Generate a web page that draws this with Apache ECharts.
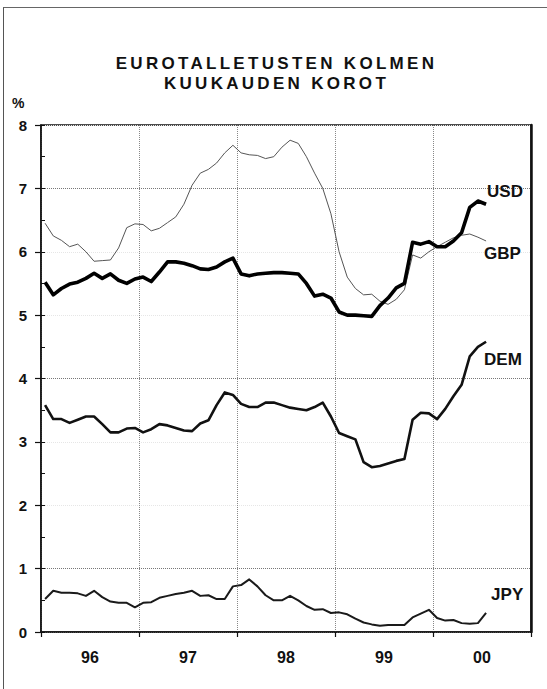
<!DOCTYPE html>
<html>
<head>
<meta charset="utf-8">
<script src="https://cdn.jsdelivr.net/npm/echarts@6/dist/echarts.min.js"></script>
<style>
  body { margin: 0; background: #fff; }
  #wrap { position: relative; width: 547px; height: 689px; overflow: hidden; }
  #frame { position: absolute; left: 3px; top: 7px; right: -5px; bottom: -5px;
           border-left: 1px solid #555; border-top: 1px solid #666; }
  #title { position: absolute; left: 0; top: 54px; width: 547px; padding-left: 3px;
           text-align: center; color: #111; letter-spacing: 3.3px; line-height: 17px;
           font: bold 17px 'Liberation Sans', Arial, sans-serif; }
  #chart { position: absolute; left: 0; top: 0; width: 547px; height: 689px; }
</style>
</head>
<body>
<div id="wrap">
  <div id="frame"></div>
  <div id="chart"></div>
  <div id="title">EUROTALLETUSTEN KOLMEN<br>KUUKAUDEN KOROT</div>
</div>
<script>
// year bands on the x axis
const years = ['96', '97', '98', '99', '00'];

// monthly positions Jan 1996 .. Dec 2000 (data runs to mid 2000)
const months = [];
['1996', '1997', '1998', '1999', '2000'].forEach(y => {
  for (let m = 1; m <= 12; m++) months.push(y + '-' + (m < 10 ? '0' + m : m));
});

const yTicks = [0, 1, 2, 3, 4, 5, 6, 7, 8];

const usd = [5.52, 5.32, 5.42, 5.49, 5.52, 5.58, 5.66, 5.58, 5.65, 5.55,
  5.50, 5.57, 5.60, 5.53, 5.68, 5.84, 5.84, 5.82, 5.78, 5.73,
  5.72, 5.76, 5.84, 5.90, 5.65, 5.62, 5.65, 5.66, 5.67, 5.67,
  5.66, 5.65, 5.50, 5.30, 5.33, 5.27, 5.05, 5.00, 5.00, 4.99,
  4.98, 5.15, 5.27, 5.43, 5.50, 6.15, 6.12, 6.16, 6.08, 6.08,
  6.17, 6.30, 6.70, 6.80, 6.75];

const gbp = [6.45, 6.25, 6.18, 6.08, 6.12, 6.00, 5.85, 5.86, 5.87, 6.06,
  6.38, 6.44, 6.43, 6.33, 6.37, 6.46, 6.55, 6.75, 7.05, 7.24,
  7.30, 7.40, 7.56, 7.68, 7.56, 7.53, 7.52, 7.47, 7.50, 7.65,
  7.76, 7.71, 7.50, 7.24, 7.00, 6.60, 6.00, 5.60, 5.42, 5.32,
  5.33, 5.22, 5.17, 5.25, 5.40, 5.95, 5.90, 6.00, 6.08, 6.15,
  6.22, 6.26, 6.28, 6.23, 6.17];

const dem = [3.58, 3.36, 3.36, 3.30, 3.35, 3.40, 3.40, 3.28, 3.15, 3.15,
  3.21, 3.22, 3.15, 3.20, 3.28, 3.26, 3.22, 3.18, 3.17, 3.29,
  3.34, 3.58, 3.78, 3.74, 3.60, 3.55, 3.55, 3.62, 3.62, 3.58,
  3.54, 3.52, 3.50, 3.55, 3.62, 3.40, 3.14, 3.09, 3.04, 2.68,
  2.60, 2.62, 2.66, 2.70, 2.73, 3.35, 3.46, 3.45, 3.36, 3.52,
  3.72, 3.90, 4.35, 4.50, 4.58];

const jpy = [0.52, 0.65, 0.62, 0.62, 0.61, 0.57, 0.65, 0.55, 0.48, 0.46,
  0.46, 0.39, 0.46, 0.47, 0.54, 0.57, 0.60, 0.62, 0.65, 0.57,
  0.58, 0.52, 0.52, 0.72, 0.74, 0.83, 0.72, 0.58, 0.50, 0.50,
  0.57, 0.50, 0.41, 0.35, 0.36, 0.30, 0.31, 0.28, 0.21, 0.15,
  0.12, 0.10, 0.11, 0.11, 0.11, 0.23, 0.29, 0.35, 0.22, 0.18,
  0.19, 0.14, 0.13, 0.14, 0.30];

const FONT = "'Liberation Sans', Arial, sans-serif";

function line(name, data, width, color, offset) {
  return {
    name: name,
    type: 'line',
    xAxisIndex: 1,
    data: data,
    symbol: 'none',
    silent: true,
    lineStyle: { width: width, color: color, join: 'round' },
    endLabel: {
      show: true,
      formatter: name,
      offset: offset,
      color: '#111',
      fontFamily: FONT,
      fontWeight: 'bold',
      fontSize: 17
    }
  };
}

const chart = echarts.init(document.getElementById('chart'), null, { renderer: 'svg' });
chart.setOption({
  animation: false,
  title: {
    text: '%',
    left: 12,
    top: 96,
    padding: 0,
    textStyle: { fontFamily: FONT, fontWeight: 'bold', fontSize: 14, color: '#111' }
  },
  grid: {
    left: 41, right: 16, top: 125, bottom: 57,
    show: true, borderColor: '#111', borderWidth: 1.5
  },
  xAxis: [
    {
      type: 'category',
      data: years,
      boundaryGap: true,
      axisLine: { lineStyle: { color: '#111', width: 1.5 } },
      axisTick: { show: true, length: 5, lineStyle: { color: '#111', width: 1.2 } },
      axisLabel: { margin: 17, color: '#111', fontFamily: FONT, fontWeight: 'bold', fontSize: 16 },
      splitLine: { show: true, lineStyle: { color: '#888', type: 'dotted', width: 1 } }
    },
    {
      type: 'category',
      data: months,
      boundaryGap: true,
      show: false
    }
  ],
  yAxis: [
    {
      type: 'value',
      min: 0, max: 8, interval: 1,
      axisLine: { show: true, lineStyle: { color: '#111', width: 1.5 } },
      axisTick: { show: true, length: 6, lineStyle: { color: '#111', width: 1.2 } },
      axisLabel: {
        margin: 14, color: '#111', fontFamily: FONT, fontWeight: 'bold', fontSize: 15,
        formatter: v => (yTicks.indexOf(v) >= 0 ? String(v) : '')
      },
      splitLine: {
        show: true,
        lineStyle: { color: ['#e6e6e6', '#777', '#e6e6e6'], type: 'dotted', width: 1 }
      }
    },
    {
      type: 'value',
      position: 'left',
      min: 0, max: 8, interval: 1,
      axisLine: { show: false },
      axisTick: { show: true, inside: true, length: 4, lineStyle: { color: '#111', width: 1 } },
      minorTick: { show: true, splitNumber: 2, length: 4, lineStyle: { color: '#111', width: 1 } },
      axisLabel: { show: false },
      splitLine: { show: false }
    },
    {
      type: 'value',
      position: 'right',
      min: 0, max: 8, interval: 1,
      axisLine: { show: true, lineStyle: { color: '#111', width: 2.5 } },
      axisTick: { show: false },
      axisLabel: { show: false },
      splitLine: { show: false }
    }
  ],
  series: [
    line('GBP', gbp, 1, '#555', [-10, 13]),
    line('DEM', dem, 2.6, '#111', [-10, 18]),
    line('JPY', jpy, 2, '#1a1a1a', [-3, -18]),
    line('USD', usd, 3.6, '#000', [-7, -13])
  ]
});
</script>
</body>
</html>
